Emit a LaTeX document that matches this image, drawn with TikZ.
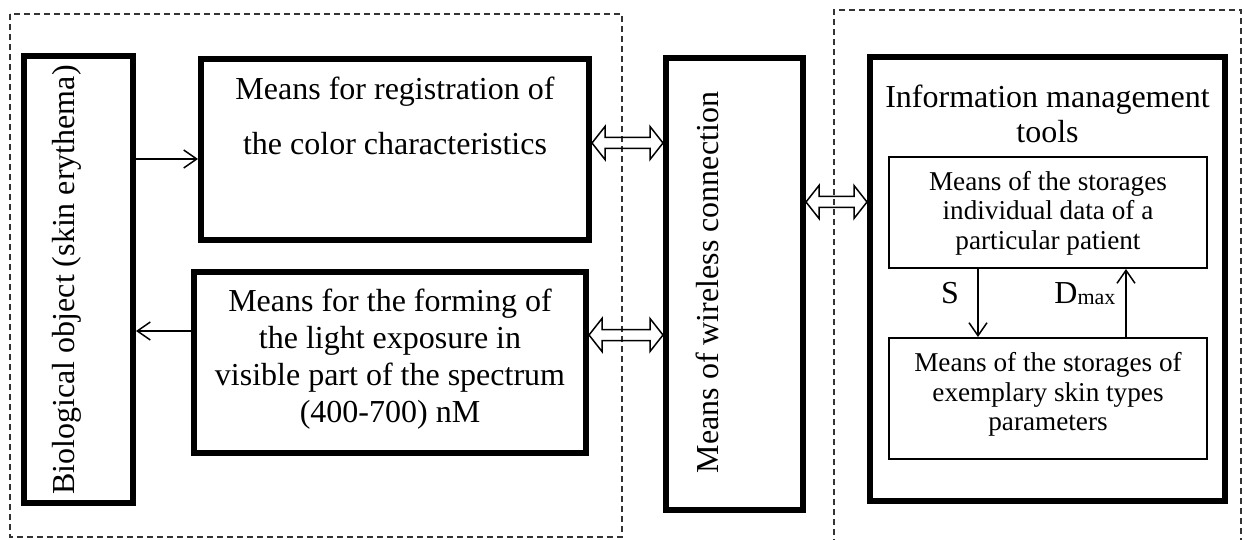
\documentclass[tikz,border=0pt]{standalone}
\usepackage{fontspec}
\setmainfont{Liberation Serif}
\usetikzlibrary{arrows.meta,calc}
\tikzset{
  thickbox/.style={draw, line width=3pt, rectangle, inner sep=0pt},
  thinbox/.style={draw, line width=1pt, rectangle, inner sep=0pt},
  dashbox/.style={line width=0.7pt, dash pattern=on 3pt off 2pt, draw=black!80},
  txt/.style={inner sep=0pt, align=center},
  arr/.style={line width=0.75pt, -{Straight Barb[length=6.5pt,width=9pt]}},
  dblarr/.style={line width=0.75pt, line join=miter},
}
\newcommand{\bigfont}{\fontsize{16}{18.5}\selectfont}
\begin{document}
\begin{tikzpicture}[x=0.5pt,y=-0.5pt]
\useasboundingbox (0,0) rectangle (1244,540);
% dashed groups
\draw[dashbox] (10,14) rectangle (622,537);
\draw[dashbox] (834,545) -- (834,10) -- (1241,10) -- (1241,545);
% boxes
\node[thickbox, minimum width=54.5pt, minimum height=223.5pt] (bio) at (78.5,279.5) {};
\node[thickbox, minimum width=194pt, minimum height=90.5pt] (reg) at (395,149.5) {};
\node[thickbox, minimum width=196pt, minimum height=90.5pt] (form) at (390,362.5) {};
\node[thickbox, minimum width=68.5pt, minimum height=226pt] (wire) at (734.5,284) {};
\node[thickbox, minimum width=177.5pt, minimum height=222pt] (info) at (1047.5,279) {};
\node[thinbox, minimum width=159pt, minimum height=55.5pt] (st1) at (1048,212.5) {};
\node[thinbox, minimum width=159pt, minimum height=60.5pt] (st2) at (1048,398.5) {};
% texts
\node[txt, rotate=90, font=\bigfont] (biotxt) at (66.5,280) {Biological object (skin erythema)};
\node[txt, font={\fontsize{16}{27.5}\selectfont}] (regtxt) at (395,115.6) {Means for registration of\\the color characteristics};
\node[txt, font={\fontsize{16}{18.5}\selectfont}] (formtxt) at (390,359.5) {Means for the forming of\\the light exposure in\\visible part of the spectrum\\(400-700) nM};
\node[txt, rotate=90, font=\bigfont] (wiretxt) at (707.5,282.5) {Means of wireless connection};
\node[txt, font={\fontsize{16}{17.5}\selectfont}] (infotxt) at (1047.5,113.75) {Information management\\tools};
\node[txt, font={\fontsize{13.6}{14.75}\selectfont}] (st1txt) at (1048,213.3) {Means of the storages\\individual data of a\\particular patient};
\node[txt, font={\fontsize{13.6}{14.75}\selectfont}] (st2txt) at (1048,394.8) {Means of the storages of\\exemplary skin types\\parameters};
\node[txt, font=\bigfont] (slab) at (950,293) {S};
\node[txt, font=\bigfont, anchor=base west] (dlab) at (1054,303) {D{\fontsize{11}{11}\selectfont\raisebox{-1pt}{max}}};
% single arrows
\coordinate (ya) at (0,159);
\coordinate (yb) at (0,331);
\coordinate (xs) at (978,0);
\coordinate (xd) at (1126,0);
\draw[arr] (bio.east |- ya) -- (reg.west |- ya);
\draw[arr] (form.west |- yb) -- (bio.east |- yb);
\draw[arr] (st1.south -| xs) -- (st2.north -| xs);
\draw[arr] (st2.north -| xd) -- (st1.south -| xd);
% double arrows
\coordinate (y1) at (0,143);
\coordinate (y2) at (0,335);
\coordinate (y3) at (0,202);
\newcommand{\dblpath}[2]{%
  \draw[dblarr] let \p1=(#1), \p2=(#2) in
    (\x1,\y1) -- (\x1+6.5pt,\y1+8.25pt) -- (\x1+6.5pt,\y1+2.75pt) -- (\x2-6.5pt,\y1+2.75pt)
    -- (\x2-6.5pt,\y1+8.25pt) -- (\x2,\y1) -- (\x2-6.5pt,\y1-8.25pt) -- (\x2-6.5pt,\y1-2.75pt)
    -- (\x1+6.5pt,\y1-2.75pt) -- (\x1+6.5pt,\y1-8.25pt) -- cycle;}
\dblpath{reg.east |- y1}{wire.west |- y1}
\dblpath{form.east |- y2}{wire.west |- y2}
\dblpath{wire.east |- y3}{info.west |- y3}
\end{tikzpicture}
\end{document}
